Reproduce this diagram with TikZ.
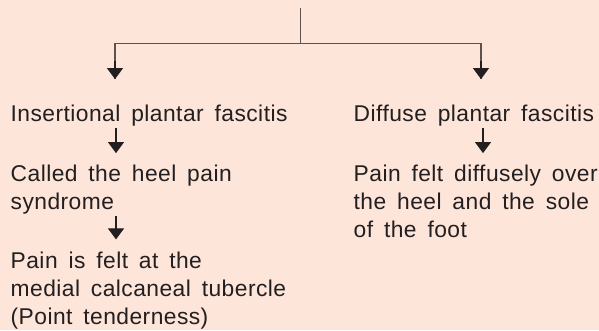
\documentclass[tikz,border=0pt]{standalone}
\usepackage{fontspec}
\setmainfont{Liberation Sans}[WordSpace=1.6,LetterSpace=2]
\usetikzlibrary{positioning,arrows.meta}
\definecolor{peach}{HTML}{FDE5DA}
\definecolor{ink}{HTML}{231F20}
\definecolor{branch}{HTML}{5E5250}

\begin{document}
\begin{tikzpicture}[
  x=1bp, y=-1bp,
  font=\fontsize{22.8bp}{28bp}\selectfont,
  txt/.style={anchor=north west, inner sep=0pt, align=left, text=ink},
  tree/.style={draw=branch, line width=1.2bp},
  down/.style={-{Triangle[length=11bp,width=16bp]}, draw=ink, fill=ink, line width=1.1bp}
]
\fill[peach] (0,0) rectangle (599,330);
\useasboundingbox (0,0) rectangle (599,330);

\node[txt] (ins)   at (10.5,105.1) {Insertional plantar fascitis};
\node[txt] (heel)  at (10.5,165.1) {Called the heel pain\\syndrome};
\node[txt] (tub)   at (10.5,251.4) {Pain is felt at the\\medial calcaneal tubercle\\(Point tenderness)};
\node[txt] (diff)  at (353.5,105.1) {Diffuse plantar fascitis};
\node[txt] (sole)  at (353.5,165.1) {Pain felt diffusely over\\the heel and the sole\\of the foot};

\coordinate (top)   at (300.7,8);
\coordinate (split) at (300.7,43.3);

\draw[tree] (top) -- (split);
\draw[tree] (split) -| ([xshift=104.5bp,yshift=26bp]ins.north west);
\draw[tree] (split) -| ([xshift=127.5bp,yshift=26bp]diff.north west);
\draw[down] ([xshift=104.5bp,yshift=44bp]ins.north west) -- ([xshift=104.5bp,yshift=26bp]ins.north west);
\draw[down] ([xshift=127.5bp,yshift=44bp]diff.north west) -- ([xshift=127.5bp,yshift=26bp]diff.north west);

\draw[down] ([xshift=105.5bp,yshift=-1bp]ins.south west) -- ([xshift=105.5bp,yshift=12bp]heel.north west);
\draw[down] ([xshift=105.5bp,yshift=-1bp]heel.south west) -- ([xshift=105.5bp,yshift=12bp]tub.north west);
\draw[down] ([xshift=129.5bp,yshift=-1bp]diff.south west) -- ([xshift=129.5bp,yshift=12bp]sole.north west);
\end{tikzpicture}
\end{document}
